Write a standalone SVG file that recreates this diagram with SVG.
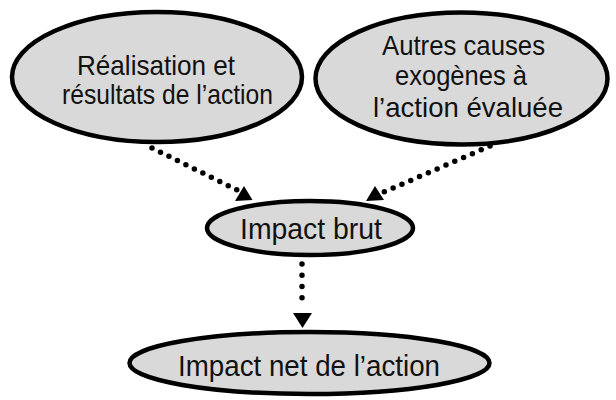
<svg xmlns="http://www.w3.org/2000/svg" width="616" height="400" viewBox="0 0 616 400">
<style>
.node ellipse{fill:#d9d9d9;stroke:#000;stroke-width:4.5}
.node text{font-family:"Liberation Sans",Arial,sans-serif;font-size:28px;fill:#111;text-anchor:middle}
.node text.big{font-size:30px}
.dot{fill:none;stroke:#000;stroke-width:5.5;stroke-linecap:round}
.head{fill:#000}
</style>
<rect width="616" height="400" fill="#fff"/>
<g id="connectors">
<line class="dot" x1="152" y1="148" x2="237" y2="190" stroke-dasharray="0 9.45"/>
<polygon class="head" points="244,186 252.5,200 235,201"/>
<line class="dot" x1="490" y1="146" x2="384" y2="192" stroke-dasharray="0 9.6"/>
<polygon class="head" points="375,186 384,200 366,201"/>
<line class="dot" x1="302" y1="264" x2="302" y2="309" stroke-dasharray="0 11.25"/>
<polygon class="head" points="293,313 312,313 302.5,328"/>
</g>
<g id="node-realisation" class="node">
<ellipse cx="157" cy="77" rx="145" ry="65"/>
<text x="156" y="75" textLength="158" lengthAdjust="spacingAndGlyphs">Réalisation et</text>
<text x="167.5" y="104" textLength="211" lengthAdjust="spacingAndGlyphs">résultats de l’action</text>
</g>
<g id="node-autres" class="node">
<ellipse cx="461.5" cy="78.5" rx="146" ry="66"/>
<text x="463.5" y="55" textLength="163" lengthAdjust="spacingAndGlyphs">Autres causes</text>
<text x="461" y="85" textLength="132" lengthAdjust="spacingAndGlyphs">exogènes à</text>
<text x="468" y="117" textLength="190" lengthAdjust="spacingAndGlyphs">l’action évaluée</text>
</g>
<g id="node-brut" class="node">
<ellipse cx="310" cy="228" rx="103" ry="27"/>
<text class="big" x="311" y="239" textLength="142" lengthAdjust="spacingAndGlyphs">Impact brut</text>
</g>
<g id="node-net" class="node">
<ellipse cx="309.5" cy="363" rx="180" ry="31"/>
<text class="big" x="309" y="376" textLength="262" lengthAdjust="spacingAndGlyphs">Impact net de l’action</text>
</g>
</svg>
